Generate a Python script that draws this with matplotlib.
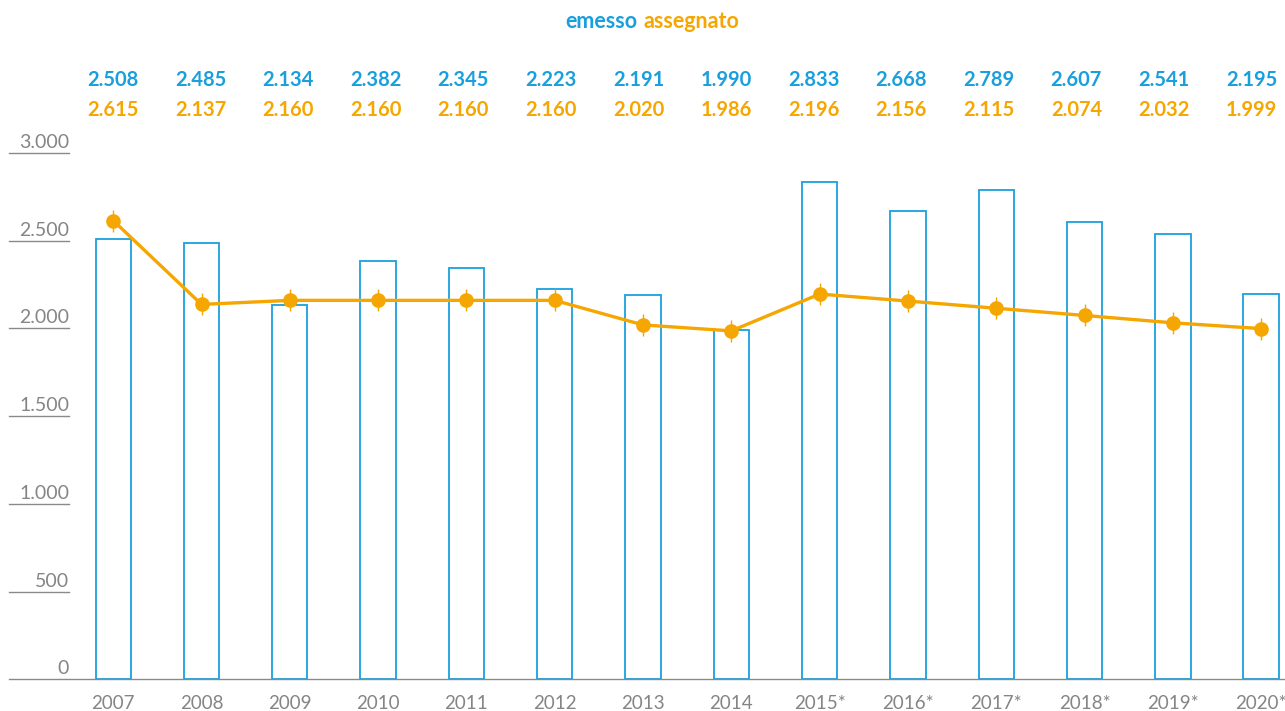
import matplotlib
matplotlib.use('Agg')
import matplotlib.pyplot as plt
import matplotlib.transforms as mtransforms

plt.rcParams['font.family'] = ['Lato', 'DejaVu Sans']

years = ['2007', '2008', '2009', '2010', '2011', '2012', '2013', '2014',
         '2015*', '2016*', '2017*', '2018*', '2019*', '2020*']
emesso = [2508, 2485, 2134, 2382, 2345, 2223, 2191, 1990,
          2833, 2668, 2789, 2607, 2541, 2195]
assegnato = [2615, 2137, 2160, 2160, 2160, 2160, 2020, 1986,
             2196, 2156, 2115, 2074, 2032, 1999]
y_ticks = [0, 500, 1000, 1500, 2000, 2500, 3000]

BLUE = '#1a9fdd'
ORANGE = '#f6a600'
TXT_GRAY = '#858585'
LINE_GRAY = '#8a8a8a'


def fmt(v):
    return f"{v:,}".replace(',', '.')


fig = plt.figure(figsize=(12.85, 7.11), dpi=100)
ax = fig.add_axes([9 / 1285, 1 - 679.3 / 711, 1 - 9 / 1285, (679.3 - 153) / 711])

x = list(range(len(years)))
ax.bar(x, emesso, width=0.4, facecolor='white', edgecolor=BLUE, linewidth=1.3, zorder=2)
ax.plot(x, assegnato, color=ORANGE, lw=2.4, zorder=3)
ax.plot(x, assegnato, ls='none', marker='|', markersize=16, mew=1.0, color=ORANGE, zorder=4)
ax.plot(x, assegnato, ls='none', marker='o', markersize=9.5, color=ORANGE, zorder=5)

ax.set_xlim(-1.18, 13.27)
ax.set_ylim(0, 3000)

for s in ['top', 'right', 'left']:
    ax.spines[s].set_visible(False)
ax.spines['bottom'].set_color(LINE_GRAY)
ax.spines['bottom'].set_linewidth(1.0)

ax.set_yticks([])
ax.set_xticks(x, years)
ax.tick_params(axis='x', length=0, pad=11, labelsize=13.5, labelcolor=TXT_GRAY)

# short grid stubs with labels on the left
trans_y = mtransforms.blended_transform_factory(ax.transAxes, ax.transData)
lab_trans = mtransforms.offset_copy(trans_y, fig=fig, y=5, units='dots')
for v in y_ticks:
    if v > 0:
        ax.plot([0, 0.047], [v, v], transform=trans_y, color=LINE_GRAY, lw=1.0,
                clip_on=False)
    ax.text(0.047, v, fmt(v), transform=lab_trans, ha='right', va='baseline',
            fontsize=14, color=TXT_GRAY)

# value labels above the plot (slightly tighter spacing than the bars)
trans_top = mtransforms.blended_transform_factory(ax.transData, fig.transFigure)
for i in x:
    xl = i * 12.89 / 13
    ax.text(xl, 1 - 80 / 711, fmt(emesso[i]), transform=trans_top, ha='center',
            va='center', fontsize=14.5, color=BLUE, fontweight='bold')
    ax.text(xl, 1 - 110 / 711, fmt(assegnato[i]), transform=trans_top, ha='center',
            va='center', fontsize=14.5, color=ORANGE, fontweight='bold')

fig.text(637 / 1285, 1 - 21 / 711, 'emesso', ha='right', va='center',
         fontsize=15.5, color=BLUE, fontweight='bold')
fig.text(643 / 1285, 1 - 21 / 711, 'assegnato', ha='left', va='center',
         fontsize=15.5, color=ORANGE, fontweight='bold')

fig.savefig('out.png', dpi=100)
plt.close(fig)
